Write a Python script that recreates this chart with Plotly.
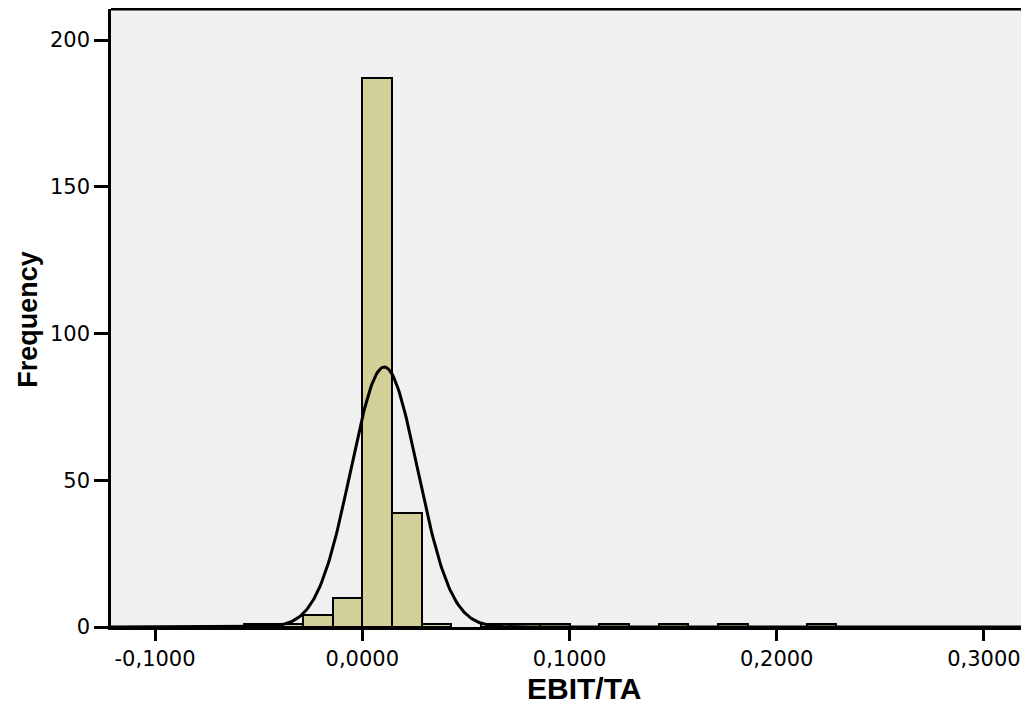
import numpy as np
import plotly.graph_objects as go

# Histogram data (EBIT/TA), bin width
bin_width = 0.0143
bin_index = [-4, -3, -2, -1, 0, 1, 2, 3, 4, 5, 6, 7, 8, 9, 10, 11, 12, 13, 14, 15]
counts    = [1, 1, 4, 10, 187, 39, 1, 0, 1, 1, 1, 0, 1, 0, 1, 0, 1, 0, 0, 1]

# Normal curve parameters
curve_mean = 0.0106
curve_sd = 0.0161

x_tick_vals = [-0.1, 0.0, 0.1, 0.2, 0.3]
x_tick_text = ["-0,1000", "0,0000", "0,1000", "0,2000", "0,3000"]
y_tick_vals = [0, 50, 100, 150, 200]

x_range = [-0.12126, 0.32174]
y_range = [0, 210.6]

n_total = sum(counts)
bx = [(k + 0.5) * bin_width for k, c in zip(bin_index, counts) if c > 0]
by = [c for c in counts if c > 0]

fig = go.Figure()
fig.add_trace(go.Bar(
    x=bx, y=by, width=bin_width,
    marker=dict(color="#d3cf99", line=dict(color="black", width=2)),
    showlegend=False, hoverinfo="skip",
))

xc = np.linspace(x_range[0], x_range[1], 800)
yc = n_total * bin_width / (curve_sd * np.sqrt(2 * np.pi)) * np.exp(-0.5 * ((xc - curve_mean) / curve_sd) ** 2)
fig.add_trace(go.Scatter(x=xc, y=yc, mode="lines", line=dict(color="black", width=3),
                         showlegend=False, hoverinfo="skip"))

tickfont = dict(family="DejaVu Sans", size=21, color="black")
fig.update_layout(
    width=1021, height=701,
    margin=dict(l=103, r=0, t=1, b=82),
    paper_bgcolor="white", plot_bgcolor="#f0f0f0",
    bargap=0,
    xaxis=dict(range=x_range, tickvals=x_tick_vals, ticktext=x_tick_text,
               showgrid=False, zeroline=False, showline=True, linecolor="black", linewidth=3,
               ticks="outside", ticklen=11, tickwidth=2.5, tickcolor="black", tickfont=tickfont),
    yaxis=dict(range=y_range, tickvals=y_tick_vals,
               showgrid=False, zeroline=False, showline=True, linecolor="black", linewidth=2.5,
               ticks="outside", ticklen=14, tickwidth=2.5, tickcolor="black", tickfont=tickfont),
    shapes=[dict(type="line", xref="paper", yref="paper", x0=0, x1=1, y0=1, y1=1,
                 line=dict(color="black", width=3))],
    annotations=[
        dict(text="<b>EBIT/TA</b>", xref="paper", yref="paper", x=0.515, y=0, yshift=-61,
             xanchor="center", yanchor="middle", showarrow=False,
             font=dict(family="Liberation Sans", size=30, color="black")),
        dict(text="<b>Frequency</b>", xref="paper", yref="paper", x=0, xshift=-83, y=0.497,
             xanchor="center", yanchor="middle", textangle=-90, showarrow=False,
             font=dict(family="Liberation Sans", size=27, color="black")),
    ],
)

fig.write_html("out.html")
